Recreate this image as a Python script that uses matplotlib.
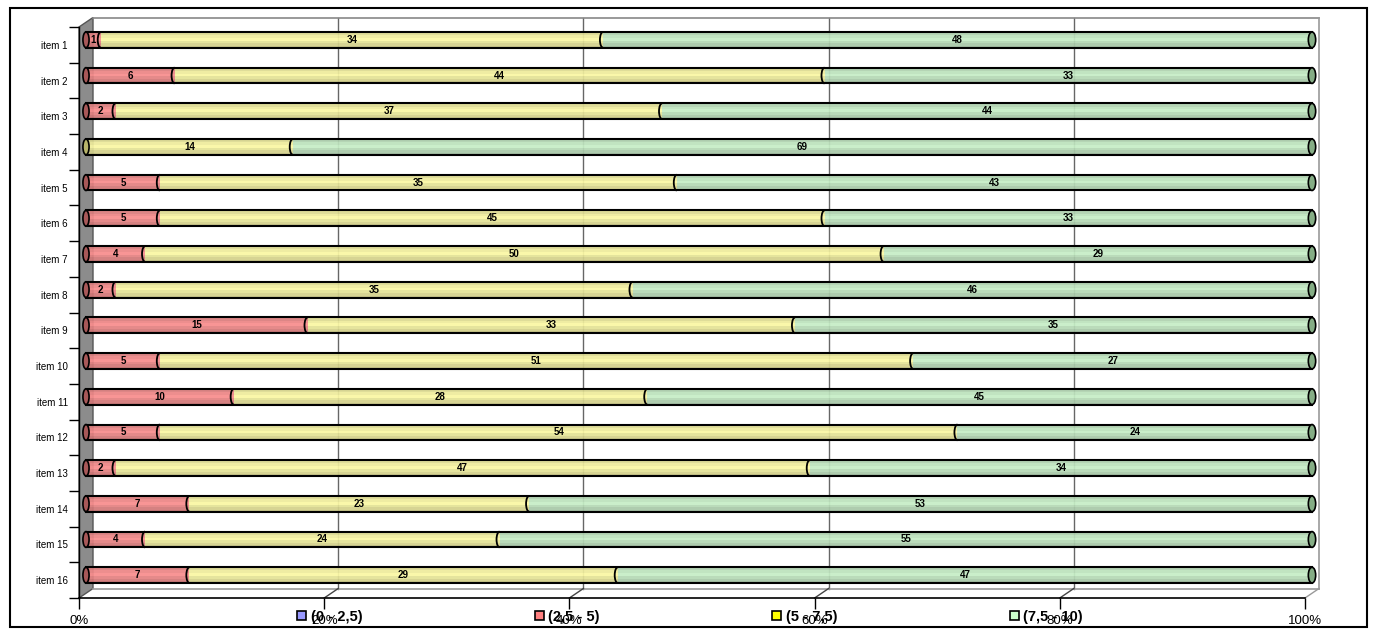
import matplotlib.pyplot as plt
import matplotlib.transforms as mtransforms
from matplotlib.patches import Rectangle, Polygon, Ellipse, Arc, Patch
from matplotlib.lines import Line2D
from matplotlib.colors import to_rgb
import numpy as np

plt.rcParams["font.family"] = ["Liberation Sans", "DejaVu Sans"]

items = ["item %d" % i for i in range(1, 17)]
series = ["(0 - 2,5)", "(2,5 - 5)", "(5 - 7,5)", "(7,5 - 10)"]
v_0_25 = [0, 0, 0, 0, 0, 0, 0, 0, 0, 0, 0, 0, 0, 0, 0, 0]
v_25_5 = [1, 6, 2, 0, 5, 5, 4, 2, 15, 5, 10, 5, 2, 7, 4, 7]
v_5_75 = [34, 44, 37, 14, 35, 45, 50, 35, 33, 51, 28, 54, 47, 23, 24, 29]
v_75_10 = [48, 33, 44, 69, 43, 33, 29, 46, 35, 27, 45, 24, 34, 53, 55, 47]
x_ticks = ["0%", "20%", "40%", "60%", "80%", "100%"]

legend_colors = ["#9999FF", "#FF8080", "#FFFF00", "#CCFFCC"]
bar_colors = ["#9a9ae8", "#ec8686", "#eeeb9c", "#bde2bd"]
cap_colors = ["#6a6ab0", "#a85858", "#b8b46a", "#85ad85"]

W, H = 1373, 631
fig = plt.figure(figsize=(W / 100, H / 100), dpi=100)


def fx(x):
    return x / W


def fy(y):
    return 1 - y / H


ax = fig.add_axes([fx(79), fy(598), fx(1305) - fx(79), fy(27) - fy(598)])
ax.set_xlim(0, 1)
ax.set_ylim(16, 0)
for s in ["top", "right"]:
    ax.spines[s].set_visible(False)
ax.spines["left"].set_linewidth(1.0)
ax.spines["bottom"].set_linewidth(1.2)

back = ax.transData + mtransforms.ScaledTranslation(0.14, 0.095, fig.dpi_scale_trans)
mid = ax.transData + mtransforms.ScaledTranslation(0.07, 0.05, fig.dpi_scale_trans)

# back wall
ax.plot([0, 1], [0, 0], color="#888888", lw=1.2, transform=back, clip_on=False)
ax.plot([1, 1], [0, 16], color="#999999", lw=1.2, transform=back, clip_on=False)
ax.plot([0, 1], [16, 16], color="#999999", lw=1.2, transform=back, clip_on=False)
for xv in [0.2, 0.4, 0.6, 0.8]:
    ax.plot([xv, xv], [0, 16], color="#666666", lw=1.0, transform=back, clip_on=False, zorder=1)

# side wall and floor connectors (pixel space)
fig.canvas.draw()
ident = mtransforms.IdentityTransform()


def disp(tr, x, y):
    return tr.transform((x, y))


side = Polygon([disp(ax.transData, 0, 0), disp(back, 0, 0), disp(back, 0, 16), disp(ax.transData, 0, 16)],
               closed=True, transform=ident, facecolor="#8c8c8c", edgecolor="#555555", lw=1.0,
               zorder=1, clip_on=False)
ax.add_patch(side)
for xv in [0.2, 0.4, 0.6, 0.8, 1.0]:
    p0 = disp(ax.transData, xv, 16)
    p1 = disp(back, xv, 16)
    ax.add_line(Line2D([p0[0], p1[0]], [p0[1], p1[1]], transform=ident, clip_on=False,
                       color="#444444" if xv < 1 else "#999999", lw=1.0))

# stacked cylinders
data = np.array([v_0_25, v_25_5, v_5_75, v_75_10], dtype=float)
totals = data.sum(axis=0)
frac = data / totals
ypos = np.arange(16) + 0.5
bh = 0.44
profile = [(-0.50, -0.30, 0.93), (-0.30, -0.12, 1.0), (-0.12, 0.05, 1.05),
           (0.05, 0.22, 0.96), (0.22, 0.38, 0.89), (0.38, 0.50, 0.82)]
left = np.zeros(16)
for k in range(4):
    base = np.array(to_rgb(bar_colors[k]))
    for a, b, f in profile:
        c = np.clip(base * f, 0, 1)
        ax.barh(ypos + (a + b) / 2 * bh, frac[k], height=(b - a) * bh, left=left,
                color=c, edgecolor="none", transform=mid, zorder=3, alpha=0.93, clip_on=False)
    for i in range(16):
        if data[k, i] > 0:
            ax.text(left[i] + frac[k, i] / 2, ypos[i], "%d" % data[k, i], transform=mid,
                    ha="center", va="center", fontsize=7, fontweight="bold", zorder=6)
            if left[i] > 0:
                ax.add_patch(Arc((left[i], ypos[i]), 0.005, bh, theta1=90, theta2=270,
                                 transform=mid, color="black", lw=1.3, zorder=5, clip_on=False))
    left = left + frac[k]

for i in range(16):
    ax.add_patch(Rectangle((0, ypos[i] - bh / 2), 1, bh, transform=mid, fill=False,
                           edgecolor="black", lw=1.5, zorder=4, clip_on=False))
    first = next(k for k in range(4) if data[k, i] > 0)
    ax.add_patch(Ellipse((0, ypos[i]), 0.005, bh, transform=mid, facecolor=cap_colors[first],
                         edgecolor="black", lw=1.2, zorder=5, clip_on=False))
    ax.add_patch(Ellipse((1, ypos[i]), 0.006, bh, transform=mid, facecolor=cap_colors[3],
                         edgecolor="black", lw=1.2, zorder=5, clip_on=False))

ax.set_yticks(np.arange(17))
ax.set_yticklabels([])
ax.set_yticks(ypos, minor=True)
ax.set_yticklabels(items, minor=True, fontsize=7)
ax.tick_params(axis="y", which="major", length=7, width=1)
ax.tick_params(axis="y", which="minor", length=0, pad=8)
ax.set_xticks(np.linspace(0, 1, 6))
ax.set_xticklabels(x_ticks, fontsize=9.5)
ax.tick_params(axis="x", length=8, width=1, pad=4)

handles = [Patch(facecolor=c, edgecolor="black", lw=1.2) for c in legend_colors]
fig.legend(handles, series, loc="center", bbox_to_anchor=(fx(690), fy(617)), ncol=4,
           frameon=False, prop={"size": 10.5, "weight": "bold"}, handlelength=0.6, handleheight=0.6,
           handletextpad=0.3, columnspacing=11.85)

fig.patches.append(Rectangle((fx(10), fy(627)), fx(1367) - fx(10), fy(8) - fy(627),
                             transform=fig.transFigure, fill=False, edgecolor="black", lw=1.5))

fig.savefig("out.png", dpi=100)
